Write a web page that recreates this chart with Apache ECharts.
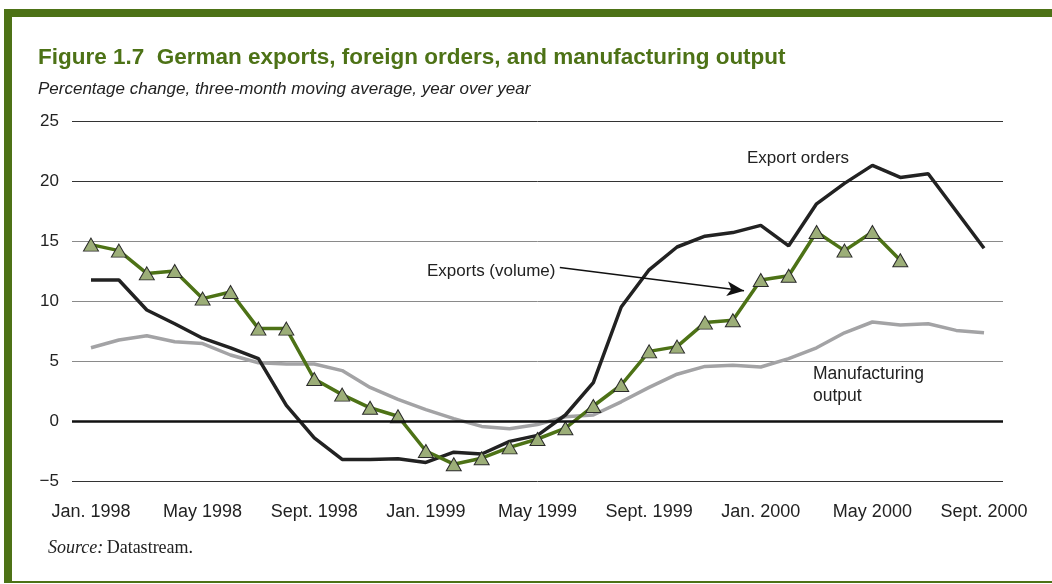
<!DOCTYPE html>
<html>
<head>
<meta charset="utf-8">
<script src="https://cdn.jsdelivr.net/npm/echarts@6/dist/echarts.min.js"></script>
<style>
  html, body { margin: 0; padding: 0; background: #fff; }
  #chart { width: 1052px; height: 584px; }
</style>
</head>
<body>
<div id="chart"></div>
<script>
// months Jan. 1998 .. Sept. 2000
var months = [
  'Jan. 1998', 'Feb. 1998', 'Mar. 1998', 'Apr. 1998', 'May 1998', 'June 1998', 'July 1998', 'Aug. 1998',
  'Sept. 1998', 'Oct. 1998', 'Nov. 1998', 'Dec. 1998',
  'Jan. 1999', 'Feb. 1999', 'Mar. 1999', 'Apr. 1999', 'May 1999', 'June 1999', 'July 1999', 'Aug. 1999',
  'Sept. 1999', 'Oct. 1999', 'Nov. 1999', 'Dec. 1999',
  'Jan. 2000', 'Feb. 2000', 'Mar. 2000', 'Apr. 2000', 'May 2000', 'June 2000', 'July 2000', 'Aug. 2000',
  'Sept. 2000'
]
var labelMonths = [0, 4, 8, 12, 16, 20, 24, 28, 32] // shown on the axis
var yTicks = [-5, 0, 5, 10, 15, 20, 25]

// exports (volume), ends June 2000
var exportsVolume = [14.7, 14.2, 12.3, 12.5, 10.2, 10.75, 7.7, 7.7, 3.5, 2.2, 1.1, 0.4,
  -2.5, -3.6, -3.1, -2.2, -1.5, -0.6, 1.25, 3.0, 5.8, 6.2, 8.2, 8.4,
  11.75, 12.1, 15.75, 14.2, 15.75, 13.4]
// export orders
var exportOrders = [11.75, 11.75, 9.25, 8.1, 6.9, 6.1, 5.2, 1.3, -1.4, -3.2, -3.2, -3.15,
  -3.45, -2.6, -2.75, -1.7, -1.2, 0.5, 3.2, 9.5, 12.6, 14.5, 15.4, 15.7,
  16.3, 14.6, 18.1, 19.8, 21.3, 20.3, 20.6, 17.5, 14.4]
// manufacturing output
var manufacturing = [6.1, 6.75, 7.1, 6.6, 6.45, 5.5, 4.85, 4.75, 4.75, 4.2, 2.8, 1.8,
  0.95, 0.2, -0.45, -0.65, -0.3, 0.35, 0.5, 1.6, 2.8, 3.9, 4.55, 4.65,
  4.5, 5.2, 6.1, 7.35, 8.25, 8.0, 8.1, 7.55, 7.35]

var green = '#4d7216'
var font = 'Liberation Sans, Arial, Helvetica, sans-serif'
var serif = 'Liberation Serif, Times New Roman, serif'

function pairs (arr) {
  return arr.map(function (v, i) { return [i, v] })
}

var myChart = echarts.init(document.getElementById('chart'))

var option = {
  animation: false,
  backgroundColor: '#fff',
  grid: { left: 72, right: 49, top: 121, bottom: 103 },
  xAxis: {
    type: 'value',
    min: -0.68,
    max: 32.68,
    axisLine: { show: false },
    axisTick: { show: false },
    splitLine: { show: false },
    axisLabel: {
      customValues: labelMonths,
      formatter: function (v) { return months[Math.round(v)] },
      color: '#222',
      fontFamily: font,
      fontSize: 18,
      margin: 22
    }
  },
  yAxis: {
    type: 'value',
    min: -5,
    max: 25,
    interval: 5,
    axisLine: { show: false },
    axisTick: { show: false },
    axisLabel: {
      customValues: yTicks,
      formatter: function (v) { return v < 0 ? '\u2212' + Math.abs(v) : String(v) },
      color: '#222',
      fontFamily: font,
      fontSize: 17,
      margin: 13
    },
    splitLine: {
      lineStyle: {
        color: ['#333', '#000', '#8a8a8a', '#8a8a8a', '#8a8a8a', '#333', '#333'],
        width: 1
      }
    }
  },
  series: [
    {
      name: 'Manufacturing output',
      type: 'line',
      symbol: 'none',
      data: pairs(manufacturing),
      lineStyle: { color: '#a3a3a5', width: 3.5 },
      z: 2
    },
    {
      name: 'Export orders',
      type: 'line',
      symbol: 'none',
      data: pairs(exportOrders),
      lineStyle: { color: '#222', width: 3.5 },
      markLine: {
        silent: true,
        symbol: 'none',
        label: { show: false },
        lineStyle: { color: '#111', width: 2.5, type: 'solid' },
        data: [{ yAxis: 0 }]
      },
      z: 3
    },
    {
      name: 'Exports (volume)',
      type: 'line',
      symbol: 'triangle',
      symbolSize: [15, 13],
      data: pairs(exportsVolume),
      lineStyle: { color: green, width: 3.5 },
      itemStyle: { color: '#9cae78', borderColor: '#2a2a2a', borderWidth: 1 },
      markLine: {
        silent: true,
        symbol: ['none', 'arrow'],
        symbolSize: [11, 17],
        label: { show: false },
        lineStyle: { color: '#111', width: 1.5, type: 'solid' },
        data: [[{ coord: [16.8, 12.8] }, { coord: [23.4, 10.85] }]]
      },
      z: 4
    }
  ],
  graphic: [
    // frame
    { type: 'rect', shape: { x: 4, y: 9, width: 1048, height: 8 }, style: { fill: green } },
    { type: 'rect', shape: { x: 4, y: 9, width: 8, height: 574 }, style: { fill: green } },
    { type: 'rect', shape: { x: 4, y: 581, width: 1048, height: 2 }, style: { fill: green } },
    {
      type: 'text', left: 38, top: 46,
      style: {
        text: 'Figure 1.7  German exports, foreign orders, and manufacturing output',
        fill: green, font: 'bold 22.5px ' + font
      }
    },
    {
      type: 'text', left: 38, top: 81,
      style: {
        text: 'Percentage change, three-month moving average, year over year',
        fill: '#222', font: 'italic 17px ' + font
      }
    },
    { type: 'text', left: 747, top: 150, style: { text: 'Export orders', fill: '#222', font: '17px ' + font } },
    { type: 'text', left: 427, top: 263, style: { text: 'Exports (volume)', fill: '#222', font: '17px ' + font } },
    {
      type: 'text', left: 813, top: 363,
      style: { text: 'Manufacturing\noutput', fill: '#222', font: '17.5px ' + font, lineHeight: 22 }
    },
    {
      type: 'text', left: 48, top: 539,
      style: {
        text: '{i|Source:} {r|Datastream.}',
        rich: {
          i: { fontFamily: serif, fontStyle: 'italic', fontSize: 18, fill: '#222' },
          r: { fontFamily: serif, fontSize: 18, fill: '#222' }
        }
      }
    }
  ]
}
myChart.setOption(option)
</script>
</body>
</html>
